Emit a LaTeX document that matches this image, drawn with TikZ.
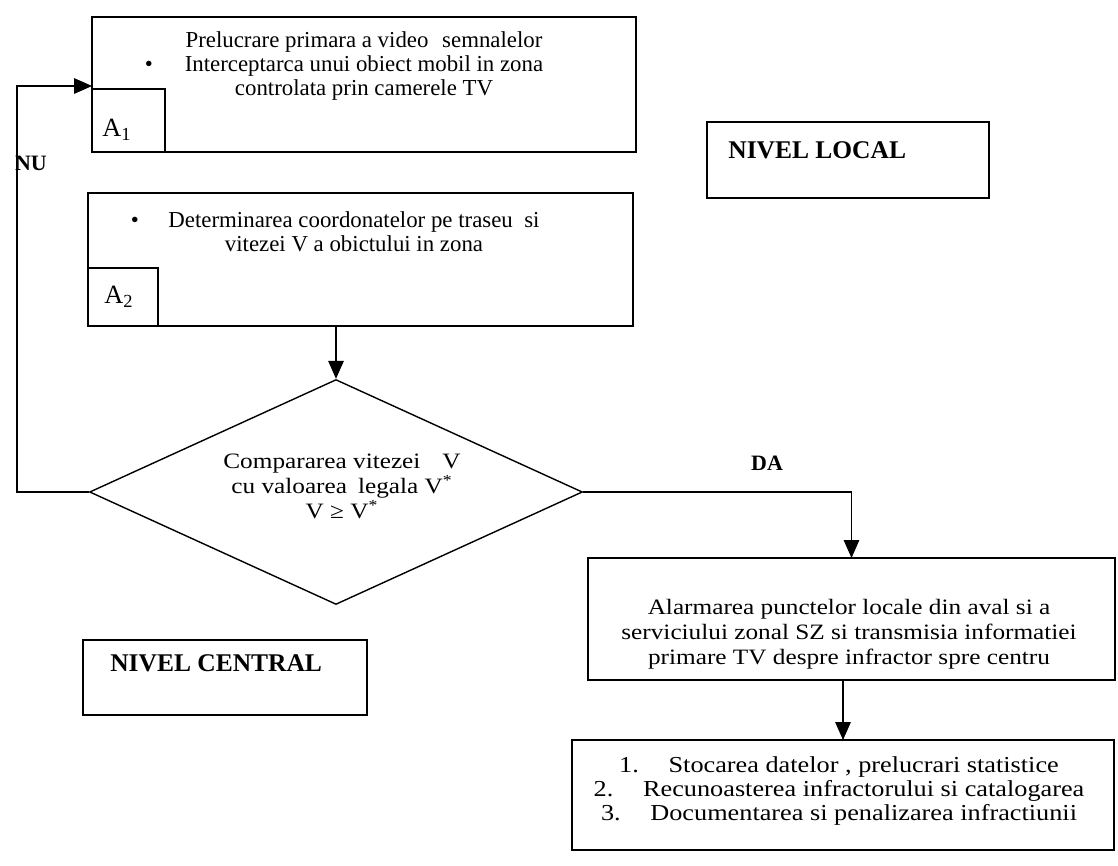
\documentclass[tikz,border=0pt]{standalone}
\usepackage{fontspec}
\setmainfont{Liberation Serif}
\newfontfamily\widefont[FakeStretch=1.15]{Liberation Serif}
\usepackage{tikz}
\usetikzlibrary{positioning,arrows.meta,shapes.geometric}
\tikzset{
  blk/.style ={rectangle, draw=black, line width=0.8pt, inner sep=0pt, outer sep=0pt},
  tagtxt/.style={inner sep=0pt, font=\fontsize{15}{17}\selectfont},
  txt/.style ={align=center, inner sep=0pt, font=\fontsize{13}{13.4}\selectfont},
  wtxt/.style={align=center, inner sep=0pt, font=\widefont\fontsize{12.5}{14.2}\selectfont},
  lvl/.style ={inner sep=0pt, anchor=west, font=\fontsize{14.5}{17}\selectfont\bfseries},
  yn/.style  ={inner sep=0pt, font=\fontsize{12.5}{14}\selectfont\bfseries},
  dec/.style ={diamond, draw=black, line width=0.8pt, inner sep=0pt,
               minimum width=9.86cm, minimum height=4.5cm},
  arr/.style ={-{Triangle[length=3.6mm,width=3.1mm]}, line width=0.8pt},
}

\begin{document}
\begin{tikzpicture}[x=0.02cm, y=-0.02cm]
  \useasboundingbox (0,0) rectangle (1118,865);
  % nivel local
  \node[blk, minimum width=10.88cm, minimum height=2.7cm] (prel) at (364,84.5) {};
  \node[blk, minimum width=1.46cm, minimum height=1.26cm] (a1) at (128.5,120.5) {};
  \node[tagtxt] (a1T) at (117,130) {A\textsubscript{1}};
  \node[txt] (prelT) at (364,66) {Prelucrare primara a video\hspace{0.6em}semnalelor\\
    \llap{\textbullet\hspace{1.4em}}Interceptarca unui obiect mobil in zona\\
    controlata prin camerele TV};
  \node[blk, minimum width=10.9cm, minimum height=2.66cm] (det) at (360.5,259.5) {};
  \node[blk, minimum width=1.4cm, minimum height=1.16cm] (a2) at (123,297) {};
  \node[tagtxt] (a2T) at (119,297) {A\textsubscript{2}};
  \node[txt] (detT) at (354,232) {\llap{\textbullet\hspace{1.3em}}Determinarea coordonatelor pe traseu\hspace{0.5em}si\\
    vitezei V a obictului in zona};
  \node[blk, minimum width=5.64cm, minimum height=1.52cm] (loc) at (848,160) {};
  \node[lvl] (locT) at (728,150) {NIVEL LOCAL};
  % decizie
  \node[dec] (cmp) at (336,492) {};
  \node[wtxt] (cmpT) at (342,486) {Compararea vitezei\hspace{1em}V\\
    cu valoarea\hspace{0.5em}legala V\textsuperscript{*}\\
    V ≥ V\textsuperscript{*}};
  % nivel central
  \node[blk, minimum width=5.68cm, minimum height=1.5cm] (cen) at (225,677.5) {};
  \node[lvl] (cenT) at (110,663) {NIVEL CENTRAL};
  \node[blk, minimum width=10.54cm, minimum height=2.44cm] (alarm) at (851.5,619) {};
  \node[wtxt] (alarmT) at (849,634) {Alarmarea punctelor locale din aval si a\\
    serviciului zonal SZ si transmisia informatiei\\
    primare TV despre infractor spre centru};
  \node[blk, minimum width=10.84cm, minimum height=2.2cm] (fin) at (843,795) {};
  \node[wtxt, font=\widefont\fontsize{13}{13.7}\selectfont] (finT) at (839,791)
    {1.\hspace{1.3em}Stocarea datelor , prelucrari statistice\\
    2.\hspace{1.3em}Recunoasterea infractorului si catalogarea\\
    3.\hspace{1.3em}Documentarea si penalizarea infractiunii};
  % legaturi
  \coordinate (nuc) at (17,86);
  \draw[arr] (cmp.north |- det.south) -- (cmp.north);
  \draw[arr] (cmp.west) -| (nuc) -- (prel.west |- nuc);
  \draw[arr] (cmp.east) -| (alarm.north);
  \draw[arr] (alarm.south -| fin.north) -- (fin.north);
  \node[yn] (nu) at (31,163) {NU};
  \node[yn] (da) at (767,463) {DA};
\end{tikzpicture}
\end{document}
